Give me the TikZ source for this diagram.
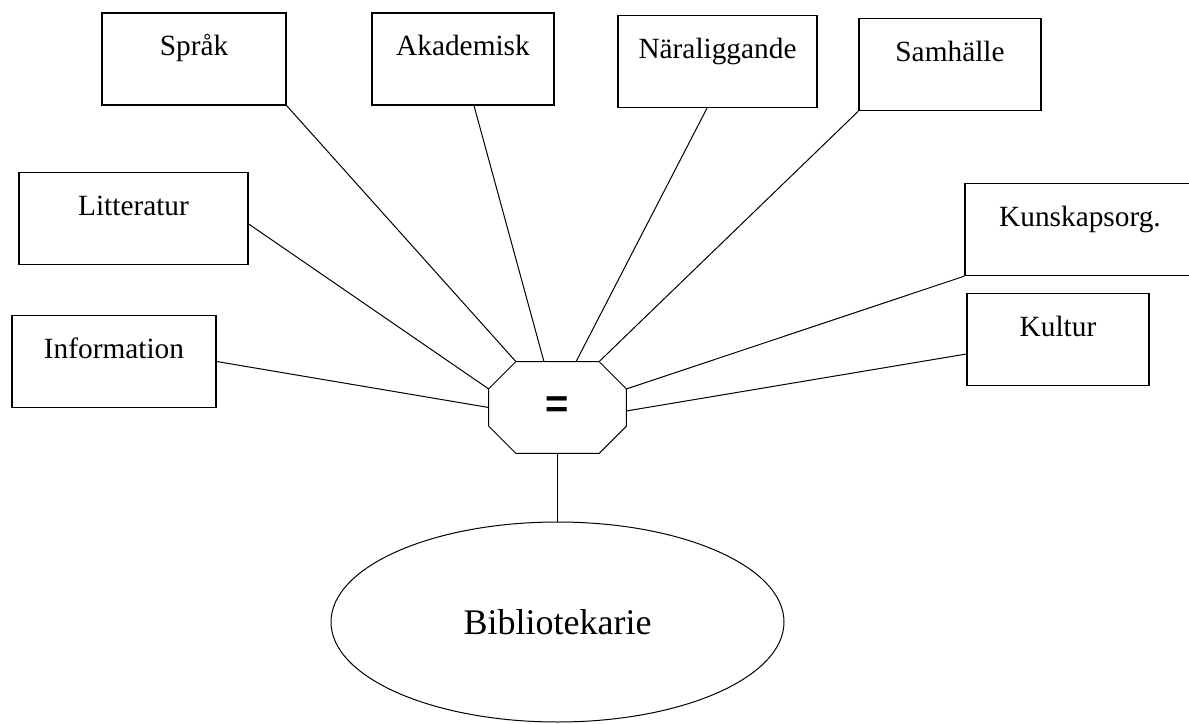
\documentclass[tikz,border=0pt]{standalone}
\usepackage{fontspec}
\setmainfont{Liberation Serif}
\newfontfamily\eqfont{Liberation Sans}
\usetikzlibrary{calc,shapes.geometric}

\tikzset{
  amne/.style={draw, line width=1pt, rectangle, inner xsep=0pt, inner ysep=0pt,
    text height=32pt, text depth=37pt, font=\fontsize{22pt}{24pt}\selectfont},
  linje/.style={line width=0.75pt}
}

\begin{document}
\begin{tikzpicture}[x=0.75pt,y=-0.75pt]
  \useasboundingbox (0,0) rectangle (1189,724);

  % boxes
  \node[amne, minimum width=138pt] (sprak) at (194,59) {Språk};
  \node[amne, minimum width=136.5pt] (akad) at (463,59) {Akademisk};
  \node[amne, minimum width=149.25pt] (nara) at (717.5,61.5) {Näraliggande};
  \node[amne, minimum width=136.5pt] (samh) at (950,64.5) {Samhälle};
  \node[amne, minimum width=171.75pt] (litt) at (133.5,218.5) {Litteratur};
  \node[amne, minimum width=153pt] (info) at (114,361.5) {Information};
  \node[amne, minimum width=172.5pt] (kunsk) at (1080,229.5) {Kunskapsorg.};
  \node[amne, minimum width=136.5pt] (kult) at (1058,339.5) {Kultur};

  % centre (octagon) and ellipse
  \node[minimum width=102.75pt, minimum height=68.25pt, inner sep=0pt,
    font=\eqfont\fontsize{30pt}{32pt}\selectfont\bfseries] (eq) at (557.5,407.5) {=};
  \draw[linje] ($(eq.north west)+(27,0)$) -- ($(eq.north east)+(-27,0)$)
    -- ($(eq.north east)+(0,27)$) -- ($(eq.south east)+(0,-27)$)
    -- ($(eq.south east)+(-27,0)$) -- ($(eq.south west)+(27,0)$)
    -- ($(eq.south west)+(0,-27)$) -- ($(eq.north west)+(0,27)$) -- cycle;
  \node[ellipse, draw, linje, minimum width=339.75pt, minimum height=150pt, inner sep=0pt,
    font=\fontsize{27pt}{29pt}\selectfont] (bib) at (557.5,622) {Bibliotekarie};

  \draw[linje] (info.east) -- (eq.west);
  \draw[linje] ($(litt.east)+(0,5.5)$) -- ($(eq.west)+(0,-18.5)$);
  \draw[linje] (sprak.south east) -- ($(eq.north)+(-41.5,0)$);
  \draw[linje] ($(akad.south)+(11,0)$) -- ($(eq.north)+(-13.5,0)$);
  \draw[linje] ($(nara.south)+(-10.5,0)$) -- ($(eq.north)+(18.5,0)$);
  \draw[linje] (samh.south west) -- ($(eq.north)+(41.5,0)$);
  \draw[linje] (kunsk.south west) -- ($(eq.east)+(0,-18.5)$);
  \draw[linje] ($(kult.west)+(0,14.5)$) -- ($(eq.east)+(0,3.5)$);
  \draw[linje] (eq.south) -- (bib.north);
\end{tikzpicture}
\end{document}
